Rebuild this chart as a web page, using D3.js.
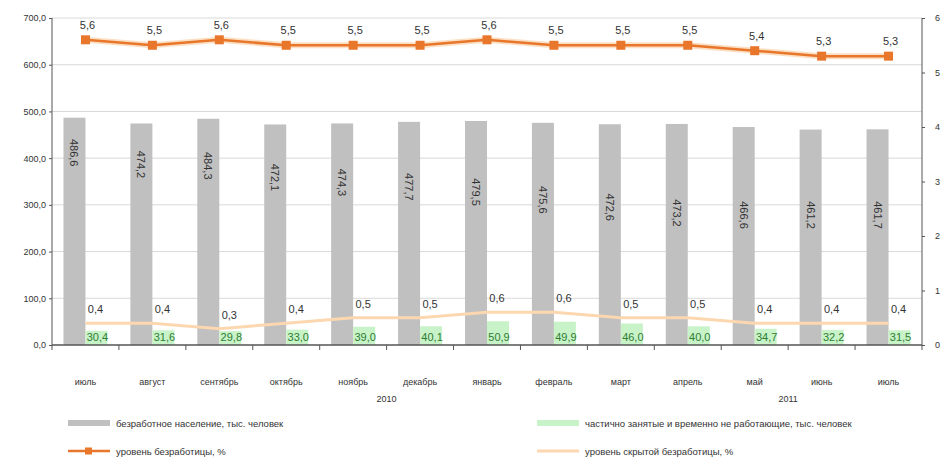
<html>
<head>
<meta charset="utf-8">
<style>
  body { margin: 0; padding: 0; background: #fff; font-family: Arial, "Liberation Sans", sans-serif; }
  .axis text { font-size: 9px; fill: #333; }
  .axis path, .axis line { stroke: #555; }
</style>
</head>
<body>
<div id="chart"></div>
<script src="https://cdn.jsdelivr.net/npm/d3@7"></script>
<script>
// months (Jul 2010 - Jul 2011)
const months = ["июль", "август", "сентябрь", "октябрь", "ноябрь", "декабрь", "январь",
                "февраль", "март", "апрель", "май", "июнь", "июль"];
const years = [{ label: "2010", at: 5 }, { label: "2011", at: 11 }];
const unemployed = [486.6, 474.2, 484.3, 472.1, 474.3, 477.7, 479.5, 475.6, 472.6, 473.2, 466.6, 461.2, 461.7];
const partTime = [30.4, 31.6, 29.8, 33.0, 39.0, 40.1, 50.9, 49.9, 46.0, 40.0, 34.7, 32.2, 31.5];
const rate = [5.6, 5.5, 5.6, 5.5, 5.5, 5.5, 5.6, 5.5, 5.5, 5.5, 5.4, 5.3, 5.3];
const hiddenRate = [0.4, 0.4, 0.3, 0.4, 0.5, 0.5, 0.6, 0.6, 0.5, 0.5, 0.4, 0.4, 0.4];
const leftTicks = [0, 100, 200, 300, 400, 500, 600, 700];
const rightTicks = [0, 1, 2, 3, 4, 5, 6];

const W = 952, H = 459;
const margin = { top: 18, right: 30, bottom: 114, left: 52 };
const fmt = v => v.toFixed(1).replace(".", ",");

const svg = d3.select("#chart").append("svg")
  .attr("width", W).attr("height", H);

const x = d3.scaleBand()
  .domain(d3.range(months.length))
  .range([margin.left, W - margin.right]);
const yL = d3.scaleLinear().domain([0, 700]).range([H - margin.bottom, margin.top]);
const yR = d3.scaleLinear().domain([0, 6]).range([H - margin.bottom, margin.top]);
const cx = i => x(i) + x.bandwidth() / 2;
const barW = 22;

// gridlines
svg.append("g").selectAll("line")
  .data(leftTicks.filter(d => d > 0))
  .join("line")
  .attr("x1", margin.left).attr("x2", W - margin.right)
  .attr("y1", d => yL(d)).attr("y2", d => yL(d))
  .attr("stroke", "#d9d9d9").attr("stroke-width", 1);

// gray bars
svg.append("g").selectAll("rect")
  .data(unemployed)
  .join("rect")
  .attr("x", (d, i) => cx(i) - barW)
  .attr("y", d => yL(d))
  .attr("width", barW)
  .attr("height", d => yL(0) - yL(d))
  .attr("fill", "#c0c0c0");

// green bars
svg.append("g").selectAll("rect")
  .data(partTime)
  .join("rect")
  .attr("x", (d, i) => cx(i))
  .attr("y", d => yL(d))
  .attr("width", barW)
  .attr("height", d => yL(0) - yL(d))
  .attr("fill", "#c8f2c8");

// gray bar labels (rotated, drift lower to the right like the original)
svg.append("g").selectAll("text")
  .data(unemployed)
  .join("text")
  .attr("transform", (d, i) => `translate(${cx(i) - barW / 2 - 4},${Math.min(yL(d) + 35 + i * 6, 215)}) rotate(90)`)
  .attr("text-anchor", "middle")
  .attr("font-size", 11)
  .attr("fill", "#333")
  .text(d => fmt(d));

// green labels
svg.append("g").selectAll("text")
  .data(partTime)
  .join("text")
  .attr("x", (d, i) => cx(i) + barW / 2 + 1)
  .attr("y", yL(0) - 4)
  .attr("text-anchor", "middle")
  .attr("font-size", 11)
  .attr("fill", "#2e7d32")
  .text(d => fmt(d));

// hidden unemployment line
const lineHidden = d3.line().x((d, i) => cx(i)).y(d => yR(d));
svg.append("path")
  .datum(hiddenRate)
  .attr("d", lineHidden)
  .attr("fill", "none")
  .attr("stroke", "#fcd7b0")
  .attr("stroke-width", 3);
svg.append("g").selectAll("text")
  .data(hiddenRate)
  .join("text")
  .attr("x", (d, i) => cx(i) + 10)
  .attr("y", d => yR(d) - 10)
  .attr("text-anchor", "middle")
  .attr("font-size", 11)
  .attr("fill", "#333")
  .text(d => fmt(d));

// unemployment rate line
const lineRate = d3.line().x((d, i) => cx(i)).y(d => yR(d));
svg.append("path")
  .datum(rate)
  .attr("d", lineRate)
  .attr("fill", "none")
  .attr("stroke", "#fbd1a8")
  .attr("stroke-width", 6)
  .attr("opacity", 0.7);
svg.append("path")
  .datum(rate)
  .attr("d", lineRate)
  .attr("fill", "none")
  .attr("stroke", "#e8762b")
  .attr("stroke-width", 2.5);
svg.append("g").selectAll("rect")
  .data(rate)
  .join("rect")
  .attr("x", (d, i) => cx(i) - 4.5)
  .attr("y", d => yR(d) - 4.5)
  .attr("width", 9).attr("height", 9)
  .attr("fill", "#e8762b");
svg.append("g").selectAll("text")
  .data(rate)
  .join("text")
  .attr("x", (d, i) => cx(i) + 2)
  .attr("y", d => yR(d) - 11)
  .attr("text-anchor", "middle")
  .attr("font-size", 11)
  .attr("fill", "#333")
  .text(d => fmt(d));

// left axis
svg.append("g")
  .attr("class", "axis")
  .attr("transform", `translate(${margin.left},0)`)
  .call(d3.axisLeft(yL).tickValues(leftTicks).tickSize(3).tickFormat(fmt))
  .call(g => g.select(".domain").attr("d", `M0,${yL(0)}V${yL(700)}`));

// right axis
svg.append("g")
  .attr("class", "axis")
  .attr("transform", `translate(${W - margin.right},0)`)
  .call(d3.axisRight(yR).tickValues(rightTicks).tickSize(3).tickPadding(10).tickFormat(d3.format("d")))
  .call(g => g.select(".domain").attr("d", `M0,${yR(0)}V${yR(6)}`));

// bottom axis: tick marks on category boundaries
const xAxis = svg.append("g").attr("class", "axis");
xAxis.append("line")
  .attr("x1", margin.left).attr("x2", W - margin.right)
  .attr("y1", yL(0)).attr("y2", yL(0))
  .attr("stroke", "#555").attr("stroke-width", 1.5);
xAxis.selectAll(".tk")
  .data(d3.range(months.length + 1))
  .join("line")
  .attr("class", "tk")
  .attr("x1", i => x.range()[0] + i * x.step())
  .attr("x2", i => x.range()[0] + i * x.step())
  .attr("y1", yL(0)).attr("y2", yL(0) + 5);
xAxis.selectAll(".mon")
  .data(months)
  .join("text")
  .attr("class", "mon")
  .attr("x", (d, i) => cx(i))
  .attr("y", yL(0) + 40)
  .attr("text-anchor", "middle")
  .attr("font-size", 9)
  .text(d => d);
xAxis.selectAll(".yr")
  .data(years)
  .join("text")
  .attr("class", "yr")
  .attr("x", d => x(d.at))
  .attr("y", yL(0) + 57)
  .attr("text-anchor", "middle")
  .attr("font-size", 11)
  .text(d => d.label);

// legend
const legend = svg.append("g").attr("font-size", 9.5).attr("fill", "#333");
const items = [
  { x: 68, y: 423, label: "безработное население, тыс. человек", kind: "bar", color: "#c0c0c0" },
  { x: 537, y: 423, label: "частично занятые и временно не работающие, тыс. человек", kind: "bar", color: "#c8f2c8" },
  { x: 68, y: 451, label: "уровень безработицы, %", kind: "marker", color: "#e8762b" },
  { x: 537, y: 451, label: "уровень скрытой безработицы, %", kind: "line", color: "#fcd7b0" }
];
items.forEach(it => {
  const g = legend.append("g").attr("transform", `translate(${it.x},${it.y})`);
  g.append("line").attr("x1", 0).attr("x2", 42).attr("y1", 0).attr("y2", 0)
    .attr("stroke", it.color).attr("stroke-width", it.kind === "bar" ? 6 : (it.kind === "marker" ? 2.5 : 3));
  if (it.kind === "marker") {
    g.append("rect").attr("x", 17).attr("y", -3.5).attr("width", 7).attr("height", 7).attr("fill", it.color);
  }
  g.append("text").attr("x", 48).attr("y", 3.5).text(it.label);
});
</script>
</body>
</html>
